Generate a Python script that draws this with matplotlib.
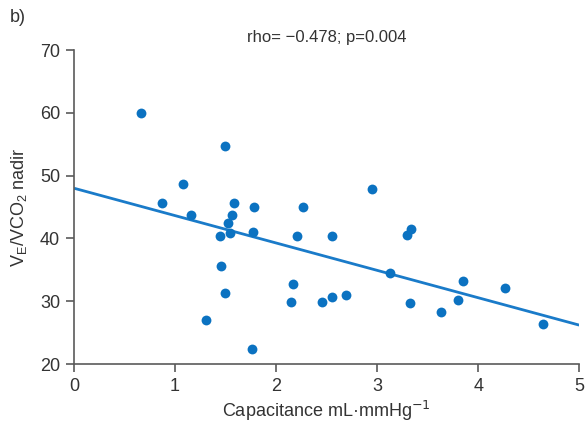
import matplotlib
matplotlib.use("Agg")
import matplotlib.pyplot as plt
import numpy as np

plt.rcParams['font.family'] = ['Liberation Sans', 'DejaVu Sans']

capacitance = [0.66, 0.87, 1.08, 1.16, 1.31, 1.44, 1.45, 1.49, 1.49, 1.52, 1.54, 1.56,
               1.58, 1.76, 1.77, 1.78, 2.15, 2.17, 2.21, 2.27, 2.45, 2.55, 2.55, 2.69,
               2.95, 3.13, 3.30, 3.33, 3.34, 3.63, 3.80, 3.85, 4.27, 4.64]
ve_vco2 = [60.0, 45.6, 48.7, 43.7, 27.0, 40.4, 35.6, 31.3, 54.8, 42.4, 40.8, 43.7,
           45.6, 22.4, 41.0, 45.0, 29.9, 32.7, 40.4, 45.0, 29.9, 30.6, 40.4, 31.0,
           47.9, 34.5, 40.5, 29.7, 41.5, 28.3, 30.2, 33.2, 32.1, 26.4]
fit_x = [0, 5]
fit_y = [48.0, 26.2]

xticks = [0, 1, 2, 3, 4, 5]
yticks = [20, 30, 40, 50, 60, 70]

dot_color = '#0b72c1'
line_color = '#1a7bc9'
text_color = '#333333'
spine_color = '#5a5a5a'

fig = plt.figure(figsize=(5.88, 4.25), dpi=100)
ax = fig.add_axes([0.126, 0.1435, 0.859, 0.7385])

ax.plot(fit_x, fit_y, color=line_color, lw=2, zorder=2, solid_capstyle='butt')
ax.scatter(capacitance, ve_vco2, s=50, color=dot_color, zorder=3, linewidths=0)

ax.set_xlim(0, 5)
ax.set_ylim(20, 70)
ax.set_xticks(xticks)
ax.set_yticks(yticks)
for s in ['top', 'right']:
    ax.spines[s].set_visible(False)
for s in ['left', 'bottom']:
    ax.spines[s].set_color(spine_color)
    ax.spines[s].set_linewidth(1.2)
ax.tick_params(direction='out', length=6, width=1.2, color=spine_color,
               labelsize=13, labelcolor=text_color, pad=4)

ax.set_xlabel('Capacitance mL\u00b7mmHg$^{\u22121}$', fontsize=13, color=text_color, labelpad=3)
ax.set_ylabel('V$_{\\mathregular{E}}$/VCO$_{\\mathregular{2}}$ nadir', fontsize=13, color=text_color, labelpad=8)
ax.set_title('rho= \u22120.478; p=0.004', fontsize=12, color=text_color, pad=6)

fig.text(0.017, 0.958, 'b)', fontsize=13, color=text_color, ha='left', va='center')

fig.savefig('out.png', dpi=100)
